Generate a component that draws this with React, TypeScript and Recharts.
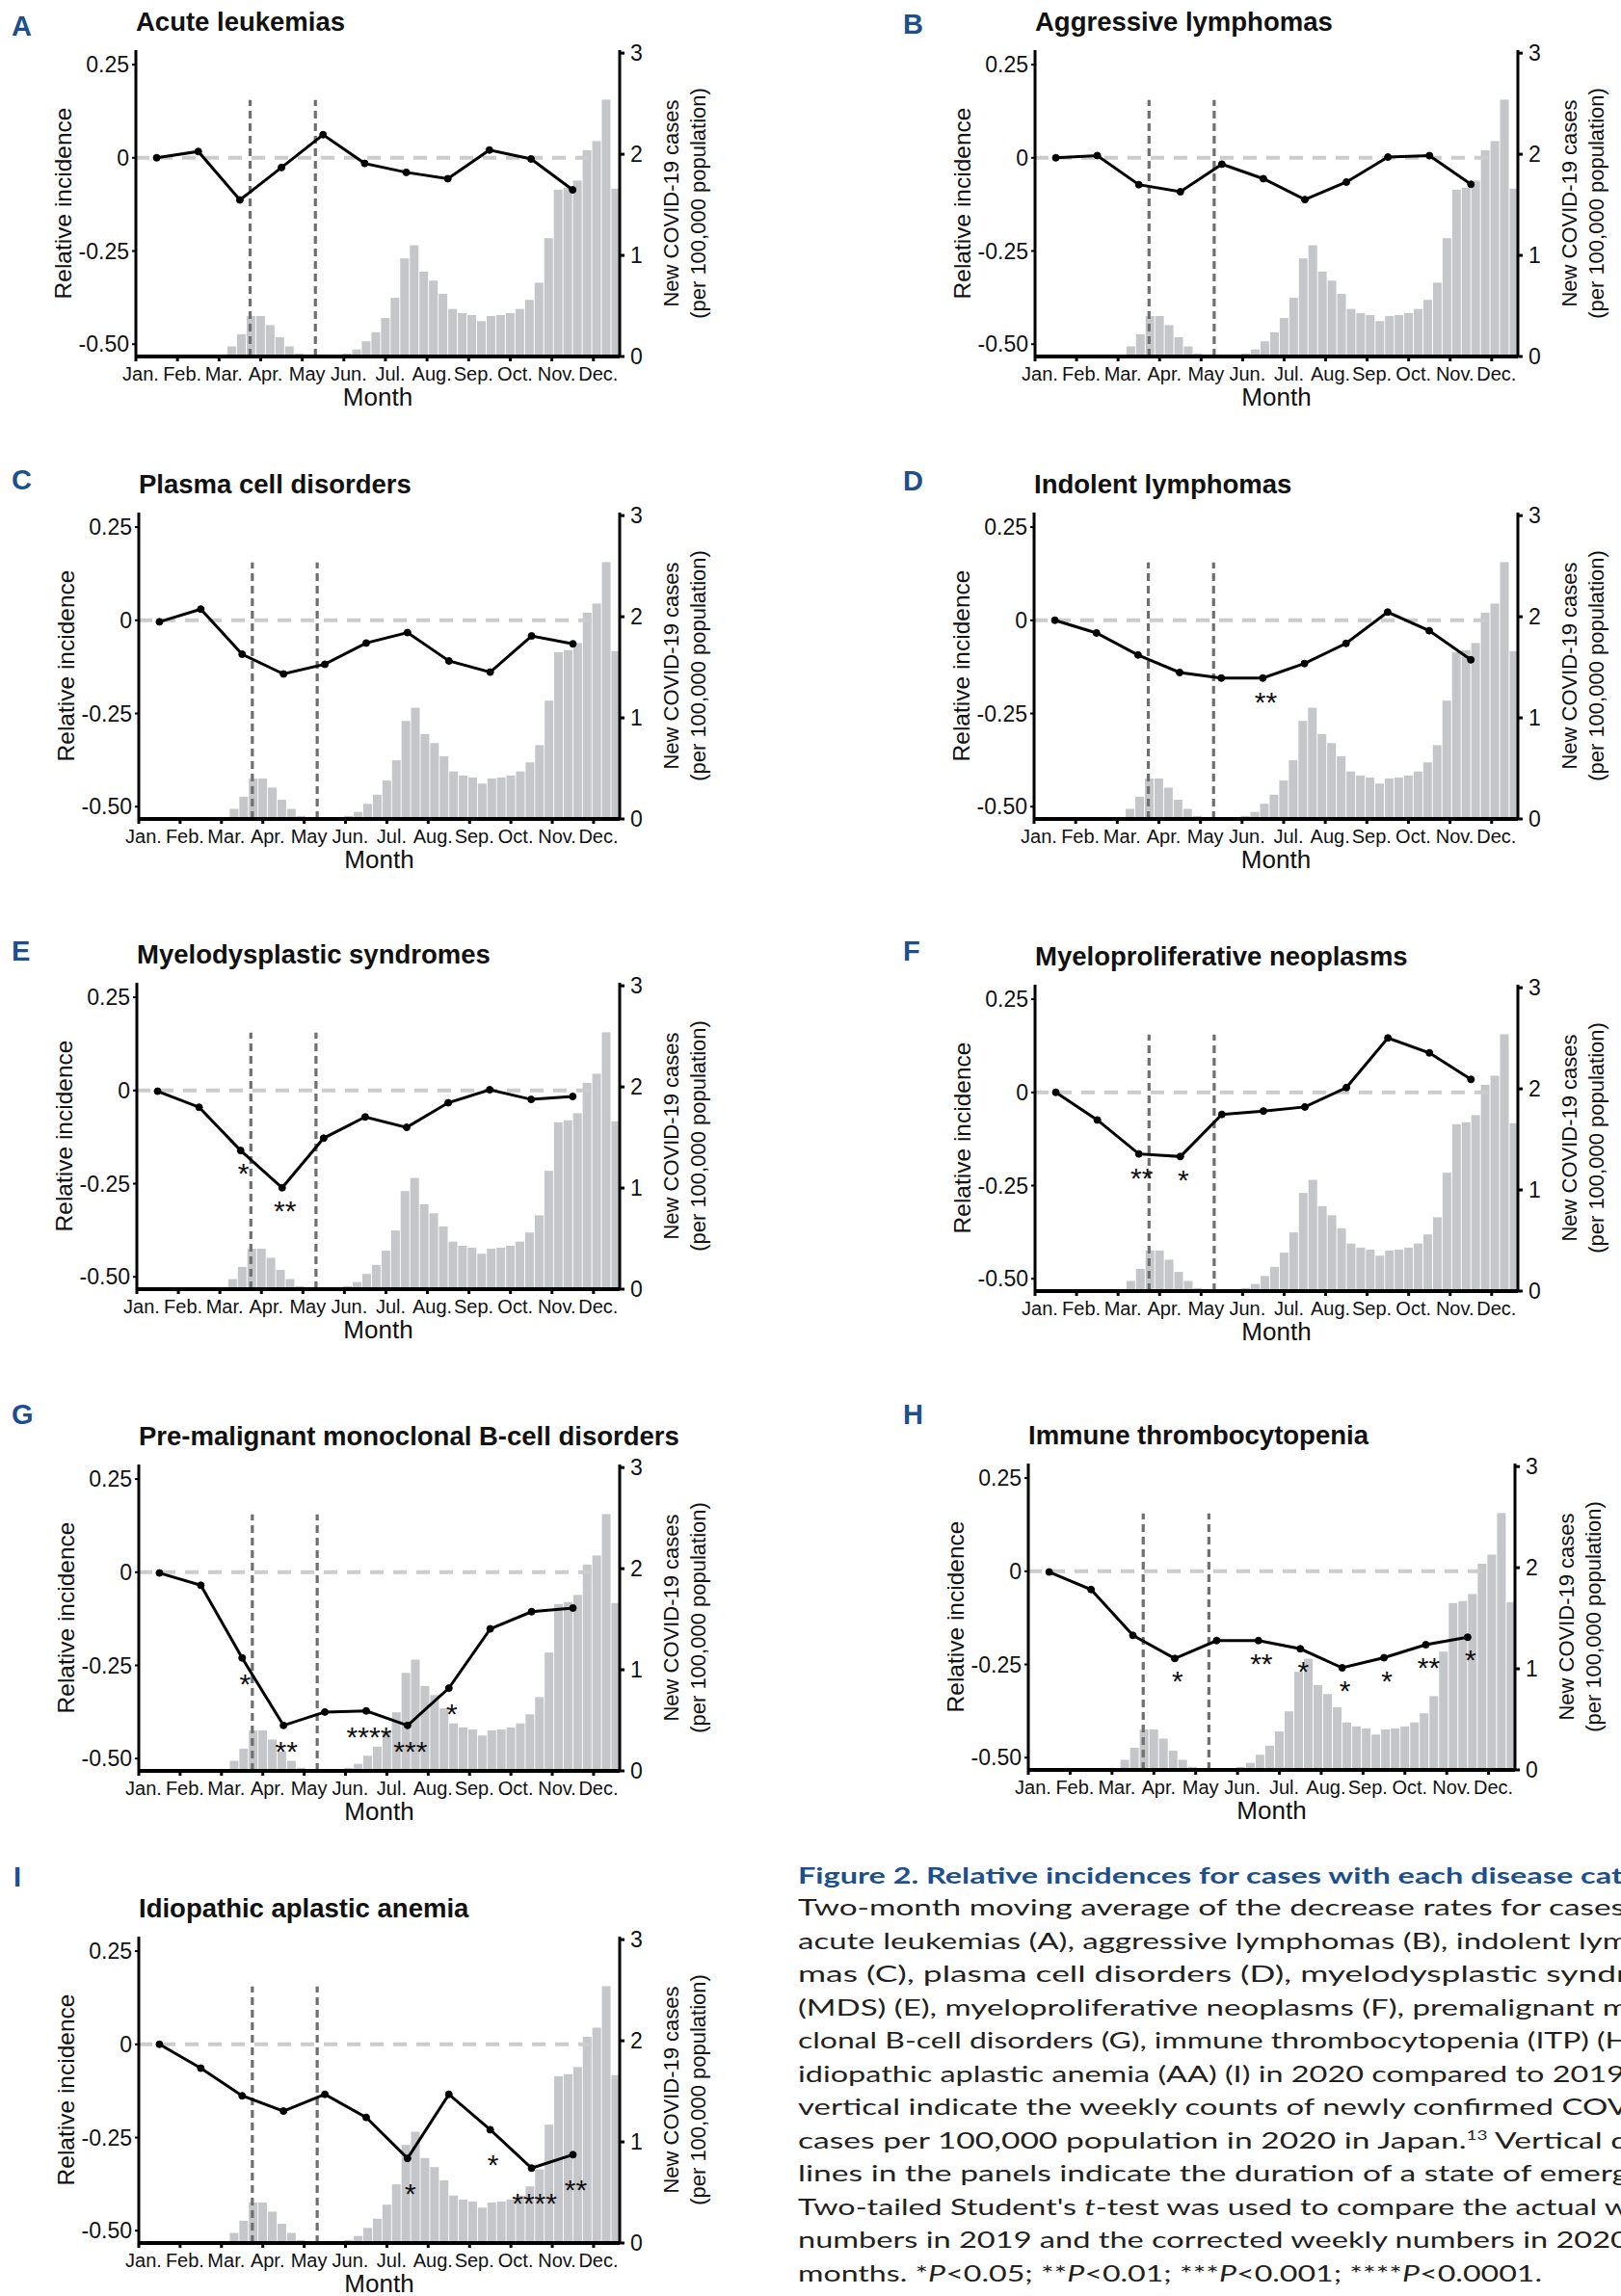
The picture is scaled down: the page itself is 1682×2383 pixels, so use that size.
import React from "react";
import { ComposedChart, Bar, Line, XAxis, YAxis, ReferenceLine, LabelList } from "recharts";

const FONT = "'Liberation Sans', Arial, Helvetica, sans-serif";
const CAPTION_FONT = "Lato, 'Open Sans', sans-serif";

// month axis (x in weeks of 2020)
const MONTH_LABELS = ["Jan.", "Feb.", "Mar.", "Apr.", "May", "Jun.", "Jul.", "Aug.", "Sep.", "Oct.", "Nov.", "Dec."];
const WEEKS_PER_MONTH = 52 / 12;
const MONTH_TICKS = MONTH_LABELS.map((_, i) => i * WEEKS_PER_MONTH);
// two-month moving average points sit mid-month, Jan..Nov
const POINT_WEEKS = MONTH_LABELS.slice(0, 11).map((_, i) => (i + 0.5) * WEEKS_PER_MONTH);
const X_END = 50.4;

// weekly new COVID-19 cases per 100,000 population (same in every panel)
const WEEK_NUMBERS = Array.from({ length: 50 }, (_, i) => i + 1);
const WEEKLY_CASES = [
  0, 0, 0, 0, 0, 0, 0, 0, 0, 0.1,
  0.22, 0.4, 0.4, 0.31, 0.19, 0.1, 0.03, 0, 0, 0,
  0, 0.03, 0.07, 0.15, 0.24, 0.38, 0.58, 0.97, 1.1, 0.84,
  0.75, 0.62, 0.47, 0.43, 0.41, 0.35, 0.4, 0.41, 0.43, 0.47,
  0.56, 0.73, 1.17, 1.65, 1.67, 1.74, 2.04, 2.13, 2.54, 1.66,
];

// state of emergency (weeks)
const EMERGENCY_START = 11.9;
const EMERGENCY_END = 18.7;

const LEFT_TICKS = [0.25, 0, -0.25, -0.5];
const LEFT_TICK_LABELS = ["0.25", "0", "-0.25", "-0.50"];
const LEFT_DOMAIN = [-0.533, 0.289];
const RIGHT_TICKS = [0, 1, 2, 3];
const RIGHT_DOMAIN = [0, 3.03];

// relative incidence, two-month moving average
const A_REL = [0, 0.017, -0.113, -0.026, 0.062, -0.015, -0.039, -0.056, 0.021, -0.003, -0.086];
const B_REL = [0, 0.006, -0.072, -0.091, -0.017, -0.056, -0.112, -0.065, 0.002, 0.006, -0.071];
const C_REL = [-0.004, 0.03, -0.091, -0.144, -0.118, -0.061, -0.033, -0.109, -0.139, -0.042, -0.063];
const D_REL = [0, -0.034, -0.093, -0.14, -0.155, -0.155, -0.116, -0.062, 0.022, -0.028, -0.106];
const E_REL = [-0.002, -0.045, -0.161, -0.261, -0.128, -0.071, -0.099, -0.033, 0.002, -0.024, -0.016];
const F_REL = [0, -0.074, -0.165, -0.172, -0.059, -0.05, -0.039, 0.013, 0.146, 0.106, 0.035];
const G_REL = [-0.002, -0.035, -0.23, -0.411, -0.375, -0.372, -0.411, -0.311, -0.152, -0.106, -0.096];
const H_REL = [-0.002, -0.049, -0.172, -0.234, -0.186, -0.186, -0.208, -0.259, -0.232, -0.197, -0.177];
const I_REL = [0, -0.064, -0.138, -0.179, -0.134, -0.196, -0.306, -0.134, -0.229, -0.332, -0.296];

// significance marks
const NO_STARS = ["", "", "", "", "", "", "", "", "", "", ""];
const D_STARS = ["", "", "", "", "", "**", "", "", "", "", ""];
const E_STARS = ["", "", "*", "**", "", "", "", "", "", "", ""];
const F_STARS = ["", "", "**", "*", "", "", "", "", "", "", ""];
const G_STARS = ["", "", "*", "**", "", "****", "***", "*", "", "", ""];
const H_STARS = ["", "", "", "*", "", "**", "*", "*", "*", "**", "*"];
const I_STARS = ["", "", "", "", "", "", "*", "", "*", "****", "**"];

const PLOT_H = 318;

const PANELS = [
  { letter: "A", title: "Acute leukemias", rel: A_REL, stars: NO_STARS, left: 141, top: 52, width: 502, lx: 12, ly: 37, gap: 18 },
  { letter: "B", title: "Aggressive lymphomas", rel: B_REL, stars: NO_STARS, left: 1074, top: 52, width: 501, lx: 937, ly: 35, gap: 18 },
  { letter: "C", title: "Plasma cell disorders", rel: C_REL, stars: NO_STARS, left: 144, top: 532, width: 499, lx: 12, ly: 508, gap: 18 },
  { letter: "D", title: "Indolent lymphomas", rel: D_REL, stars: D_STARS, left: 1073, top: 532, width: 502, lx: 937, ly: 509, gap: 18 },
  { letter: "E", title: "Myelodysplastic syndromes", rel: E_REL, stars: E_STARS, left: 142, top: 1020, width: 501, lx: 12, ly: 997, gap: 17 },
  { letter: "F", title: "Myeloproliferative neoplasms", rel: F_REL, stars: F_STARS, left: 1074, top: 1022, width: 501, lx: 937, ly: 997, gap: 18 },
  { letter: "G", title: "Pre-malignant monoclonal B-cell disorders", rel: G_REL, stars: G_STARS, left: 144, top: 1520, width: 499, lx: 12, ly: 1478, gap: 20 },
  { letter: "H", title: "Immune thrombocytopenia", rel: H_REL, stars: H_STARS, left: 1067, top: 1519, width: 505, lx: 937, ly: 1478, gap: 17 },
  { letter: "I", title: "Idiopathic aplastic anemia", rel: I_REL, stars: I_STARS, left: 144, top: 2010, width: 499, lx: 14, ly: 1958, gap: 30 },
];

const barData = WEEK_NUMBERS.map((week, i) => ({ week, cases: WEEKLY_CASES[i] }));

const MonthTick = (props: any) => {
  const { x, y, index } = props;
  return (
    <text x={x + 5} y={y + 18} textAnchor="middle" fontSize={20} fontFamily={FONT} fill="#111">
      {MONTH_LABELS[index]}
    </text>
  );
};

const BarShape = (props: any) => {
  const { x, y, width, height } = props;
  if (!height || height <= 0) return null;
  const cx = x + width / 2;
  return <rect x={cx - 4.5} y={y} width={9} height={height} fill="#c5c6ca" />;
};

function Panel({ p }: { p: any }) {
  const lineData = POINT_WEEKS.map((week, i) => ({ week, rel: p.rel[i], star: p.stars[i] }));
  const starLabel = (props: any) => {
    const { x, y, value } = props;
    if (!value) return null;
    return (
      <text x={x + 3} y={y + p.gap + 17} textAnchor="middle" fontSize={30} fontFamily={FONT} fill="#111">
        {value}
      </text>
    );
  };
  return (
    <div style={{ position: "absolute", left: p.left - 70, top: p.top - 16 }}>
      <ComposedChart
        width={p.width + 140}
        height={PLOT_H + 56}
        data={barData}
        margin={{ top: 16, right: 10, bottom: 0, left: 10 }}
      >
        <XAxis
          type="number"
          dataKey="week"
          domain={[0, X_END]}
          ticks={MONTH_TICKS}
          interval={0}
          allowDataOverflow
          height={40}
          tickSize={5}
          tick={<MonthTick />}
          tickLine={{ stroke: "#000", strokeWidth: 3 }}
          axisLine={{ stroke: "#000", strokeWidth: 4 }}
        />
        <YAxis
          yAxisId="left"
          type="number"
          domain={LEFT_DOMAIN}
          ticks={LEFT_TICKS}
          allowDataOverflow
          width={60}
          tickSize={4}
          tickMargin={3}
          tickFormatter={(v: number) => LEFT_TICK_LABELS[LEFT_TICKS.indexOf(v)]}
          tick={{ fontSize: 23, fill: "#111", fontFamily: FONT }}
          tickLine={{ stroke: "#000", strokeWidth: 2 }}
          axisLine={{ stroke: "#000", strokeWidth: 3 }}
        />
        <YAxis
          yAxisId="right"
          orientation="right"
          type="number"
          domain={RIGHT_DOMAIN}
          ticks={RIGHT_TICKS}
          allowDataOverflow
          width={60}
          tickSize={5}
          tickMargin={6}
          tick={{ fontSize: 23, fill: "#111", fontFamily: FONT }}
          tickLine={{ stroke: "#000", strokeWidth: 3 }}
          axisLine={{ stroke: "#000", strokeWidth: 3 }}
        />
        <Bar yAxisId="right" dataKey="cases" barSize={9} shape={<BarShape />} isAnimationActive={false} />
        <ReferenceLine
          yAxisId="left"
          segment={[{ x: EMERGENCY_START, y: LEFT_DOMAIN[0] }, { x: EMERGENCY_START, y: 0.155 }]}
          stroke="#6f6f6f"
          strokeWidth={3.2}
          strokeDasharray="8 5"
        />
        <ReferenceLine
          yAxisId="left"
          segment={[{ x: EMERGENCY_END, y: LEFT_DOMAIN[0] }, { x: EMERGENCY_END, y: 0.155 }]}
          stroke="#6f6f6f"
          strokeWidth={3.2}
          strokeDasharray="8 5"
        />
        <ReferenceLine
          yAxisId="left"
          segment={[{ x: 0, y: 0 }, { x: MONTH_TICKS[11], y: 0 }]}
          stroke="#cccccc"
          strokeWidth={4}
          strokeDasharray="14 10"
        />
        <Line
          yAxisId="left"
          data={lineData}
          dataKey="rel"
          stroke="#000"
          strokeWidth={3}
          dot={{ r: 3.5, fill: "#000", stroke: "#000", strokeWidth: 1 }}
          activeDot={false}
          isAnimationActive={false}
        >
          <LabelList dataKey="star" content={starLabel} />
        </Line>
      </ComposedChart>
    </div>
  );
}

function PanelText({ p }: { p: any }) {
  const cy = p.top + PLOT_H / 2;
  const right = p.left + p.width;
  return (
    <g fontFamily={FONT} fill="#111">
      <text x={p.lx} y={p.ly} fontSize={29} fontWeight={700} fill="#1d4f8c">{p.letter}</text>
      <text x={p.left} y={p.top - 20} fontSize={27.5} fontWeight={700}>{p.title}</text>
      <text transform={`translate(${p.left - 67},${cy}) rotate(-90)`} textAnchor="middle" fontSize={24.5}>
        Relative incidence
      </text>
      <text transform={`translate(${right + 61},${cy}) rotate(-90)`} textAnchor="middle" fontSize={22}>
        New COVID-19 cases
      </text>
      <text transform={`translate(${right + 89},${cy}) rotate(-90)`} textAnchor="middle" fontSize={22}>
        (per 100,000 population)
      </text>
      <text x={p.left + p.width / 2} y={p.top + PLOT_H + 51} textAnchor="middle" fontSize={26}>Month</text>
    </g>
  );
}

function Caption() {
  const x = 828;
  const y0 = 1988.3;
  const dy = 34.5;
  const full = 862;
  return (
    <g fontFamily={CAPTION_FONT} fontSize={23} fill="#231f20">
      <text x={x} y={1955} fontWeight={700} fill="#1d4f8c" textLength={856} lengthAdjust="spacingAndGlyphs">
        Figure 2. Relative incidences for cases with each disease cat
      </text>
      <text x={x} y={y0} textLength={858} lengthAdjust="spacingAndGlyphs">
        Two-month moving average of the decrease rates for cases
      </text>
      <text x={x} y={y0 + dy} textLength={full} lengthAdjust="spacingAndGlyphs">
        acute leukemias (A), aggressive lymphomas (B), indolent lym
      </text>
      <text x={x} y={y0 + dy * 2} textLength={full} lengthAdjust="spacingAndGlyphs">
        mas (C), plasma cell disorders (D), myelodysplastic syndr
      </text>
      <text x={x} y={y0 + dy * 3} textLength={full} lengthAdjust="spacingAndGlyphs">
        (MDS) (E), myeloproliferative neoplasms (F), premalignant m
      </text>
      <text x={x} y={y0 + dy * 4} textLength={full} lengthAdjust="spacingAndGlyphs">
        clonal B-cell disorders (G), immune thrombocytopenia (ITP) (H
      </text>
      <text x={x} y={y0 + dy * 5} textLength={858} lengthAdjust="spacingAndGlyphs">
        idiopathic aplastic anemia (AA) (I) in 2020 compared to 2019
      </text>
      <text x={x} y={y0 + dy * 6} textLength={full} lengthAdjust="spacingAndGlyphs">
        vertical indicate the weekly counts of newly confirmed COV
      </text>
      <text x={x} y={y0 + dy * 7} textLength={full} lengthAdjust="spacingAndGlyphs">
        cases per 100,000 population in 2020 in Japan.
        <tspan fontSize={13} dy={-9}>13</tspan>
        <tspan dy={9}> Vertical d</tspan>
      </text>
      <text x={x} y={y0 + dy * 8} textLength={full} lengthAdjust="spacingAndGlyphs">
        lines in the panels indicate the duration of a state of emerg
      </text>
      <text x={x} y={y0 + dy * 9} textLength={full} lengthAdjust="spacingAndGlyphs">
        Two-tailed Student's <tspan fontStyle="italic">t</tspan>-test was used to compare the actual w
      </text>
      <text x={x} y={y0 + dy * 10} textLength={full} lengthAdjust="spacingAndGlyphs">
        numbers in 2019 and the corrected weekly numbers in 2020
      </text>
      <text x={x} y={y0 + dy * 11} textLength={772} lengthAdjust="spacingAndGlyphs">
        months. *<tspan fontStyle="italic">P</tspan>{"<0.05; **"}<tspan fontStyle="italic">P</tspan>
        {"<0.01; ***"}<tspan fontStyle="italic">P</tspan>{"<0.001; ****"}<tspan fontStyle="italic">P</tspan>
        {"<0.0001."}
      </text>
    </g>
  );
}

export default function App() {
  return (
    <div style={{ position: "absolute", left: 0, top: 0, width: 1682, height: 2383, overflow: "hidden", background: "#fff" }}>
      {PANELS.map((p) => (
        <Panel key={p.letter} p={p} />
      ))}
      <svg
        width={1682}
        height={2383}
        style={{ position: "absolute", left: 0, top: 0, pointerEvents: "none", overflow: "hidden" }}
      >
        {PANELS.map((p) => (
          <PanelText key={p.letter} p={p} />
        ))}
        <Caption />
      </svg>
    </div>
  );
}
